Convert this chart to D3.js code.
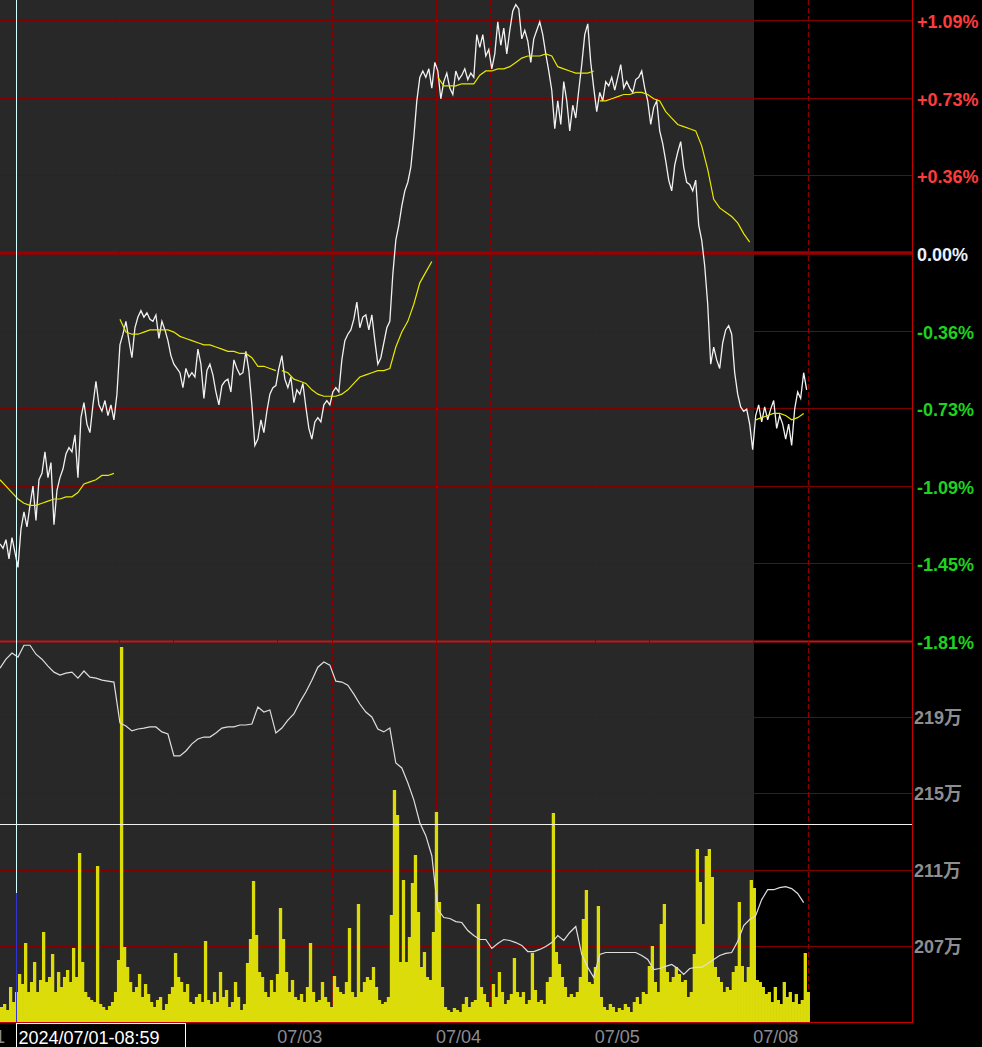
<!DOCTYPE html>
<html><head><meta charset="utf-8">
<script src="https://cdn.jsdelivr.net/npm/d3@7"></script>
<style>html,body{margin:0;padding:0;background:#000;overflow:hidden}</style>
</head><body>
<svg id="c" width="982" height="1047"></svg>
<script>
// ---------- DATA ----------
const dayLabels = ["07/01","07/02","07/03","07/04","07/05","07/08"];
const pctTicks = [1.0881, 0.7254, 0.3627, 0, -0.3627, -0.7254, -1.0881, -1.4508, -1.8135];
const oiTicks = [219, 215, 211, 207];
const cursorLabel = "2024/07/01-08:59";
const cursorT = 0.353;      // time (days) of cursor
const cursorOI = 213.41;    // value of cursor (万)
const middayOffset = 0.342; // day-session start within each trading day
const priceStart = 0.252, priceStep = 0.0189;   // days
const lineStart = 0.252, lineStep = 0.0378;     // days

// price change, % (every priceStep)
const price = [
-1.36,-1.38,-1.34,-1.43,-1.33,-1.40,-1.47,-1.29,-1.21,-1.28,
-1.18,-1.09,-1.25,-1.06,-1.03,-0.93,-1.05,-0.98,-1.27,-1.11,
-1.05,-1.01,-0.94,-0.91,-0.93,-0.85,-1.05,-0.77,-0.70,-0.80,
-0.84,-0.71,-0.60,-0.71,-0.74,-0.69,-0.76,-0.71,-0.78,-0.66,
-0.43,-0.38,-0.32,-0.41,-0.49,-0.35,-0.30,-0.27,-0.30,-0.28,
-0.31,-0.32,-0.29,-0.40,-0.32,-0.36,-0.41,-0.48,-0.52,-0.54,
-0.56,-0.63,-0.54,-0.58,-0.56,-0.58,-0.45,-0.52,-0.68,-0.55,
-0.52,-0.57,-0.65,-0.71,-0.62,-0.60,-0.59,-0.65,-0.50,-0.54,
-0.57,-0.56,-0.46,-0.55,-0.71,-0.90,-0.87,-0.78,-0.84,-0.74,
-0.66,-0.63,-0.62,-0.54,-0.48,-0.59,-0.63,-0.58,-0.70,-0.64,
-0.66,-0.61,-0.72,-0.82,-0.87,-0.79,-0.77,-0.79,-0.71,-0.69,
-0.71,-0.65,-0.63,-0.65,-0.50,-0.41,-0.38,-0.36,-0.31,-0.23,
-0.35,-0.30,-0.29,-0.36,-0.29,-0.41,-0.52,-0.49,-0.42,-0.35,
-0.32,-0.10,0.06,0.13,0.22,0.29,0.33,0.40,0.54,0.71,
0.82,0.85,0.82,0.86,0.77,0.89,0.85,0.72,0.80,0.84,
0.77,0.74,0.85,0.81,0.83,0.86,0.81,0.84,0.82,1.02,
0.96,1.02,0.92,0.95,0.86,0.93,1.08,0.97,1.05,0.93,
1.04,1.13,1.16,1.14,1.00,1.04,0.99,0.89,1.00,1.04,
1.08,1.02,0.93,0.85,0.76,0.58,0.71,0.60,0.80,0.71,
0.57,0.69,0.63,0.76,0.88,1.02,1.07,0.89,0.77,0.66,
0.75,0.71,0.80,0.78,0.82,0.76,0.82,0.88,0.77,0.80,
0.77,0.75,0.81,0.82,0.85,0.77,0.71,0.60,0.68,0.71,
0.57,0.51,0.43,0.34,0.29,0.41,0.47,0.52,0.40,0.33,
0.32,0.29,0.34,0.13,0.06,-0.06,-0.24,-0.52,-0.44,-0.50,
-0.54,-0.42,-0.36,-0.34,-0.38,-0.56,-0.66,-0.72,-0.74,-0.73,
-0.80,-0.92,-0.76,-0.71,-0.79,-0.72,-0.78,-0.73,-0.69,-0.82,
-0.76,-0.80,-0.87,-0.80,-0.90,-0.73,-0.65,-0.68,-0.56,-0.64
];

// daily average price, % (every lineStep, resets each trading day)
const vwap = [
-1.06,-1.09,-1.12,-1.15,-1.17,-1.18,-1.18,-1.17,-1.16,-1.15,
-1.15,-1.14,-1.14,-1.12,-1.08,-1.07,-1.06,-1.04,-1.04,-1.03,
-0.31,-0.37,-0.38,-0.38,-0.37,-0.36,-0.36,-0.36,-0.36,-0.37,
-0.39,-0.40,-0.41,-0.42,-0.43,-0.43,-0.44,-0.45,-0.46,-0.46,
-0.47,-0.47,-0.49,-0.53,-0.53,-0.54,-0.55,
-0.55,-0.56,-0.59,-0.60,-0.61,-0.64,-0.66,-0.67,-0.67,-0.67,
-0.66,-0.64,-0.61,-0.58,-0.57,-0.56,-0.55,-0.55,-0.54,-0.44,
-0.37,-0.32,-0.24,-0.14,-0.09,-0.04,
0.82,0.78,0.78,0.78,0.79,0.79,0.79,0.83,0.85,0.85,
0.86,0.86,0.87,0.89,0.91,0.92,0.92,0.92,0.93,0.92,
0.87,0.86,0.85,0.84,0.84,0.84,0.85,
0.71,0.71,0.72,0.73,0.74,0.74,0.75,0.75,0.74,0.72,
0.71,0.66,0.63,0.60,0.59,0.58,0.57,0.50,0.39,0.25,
0.21,0.19,0.17,0.14,0.09,0.05,
-0.78,-0.77,-0.76,-0.75,-0.75,-0.76,-0.78,-0.77,-0.75
];

// open interest, 万 (every lineStep)
const openInterest = [
221.56,222.03,222.35,222.14,222.76,222.76,222.29,222.03,221.67,221.35,
221.20,221.30,221.35,221.04,221.41,221.09,221.04,220.93,220.88,220.83,
218.69,218.53,218.27,218.37,218.42,218.48,218.48,218.22,218.11,216.96,
216.96,217.22,217.59,217.85,217.95,217.95,218.16,218.42,218.48,218.48,
218.58,218.58,218.63,219.52,219.26,219.37,218.16,218.42,218.84,219.16,
219.78,220.31,220.93,221.61,221.88,221.72,220.88,220.83,220.67,220.20,
219.68,219.26,219.00,218.37,218.22,218.42,216.59,216.33,215.55,214.66,
213.46,212.78,211.73,208.91,208.49,208.44,208.28,208.23,207.81,207.55,
207.34,207.34,206.87,207.13,207.34,207.29,207.18,207.03,206.71,206.71,
206.82,206.97,207.18,207.55,207.29,207.71,208.02,206.56,205.88,205.35,
206.56,206.66,206.66,206.66,206.66,206.66,206.66,206.50,206.29,205.77,
205.82,205.93,206.03,205.82,205.51,205.82,205.88,205.88,206.08,206.29,
206.50,206.61,206.66,207.24,208.07,208.39,208.59,209.43,209.95,209.95,
210.06,210.11,210.01,209.75,209.27
];

// volume (every priceStep)
const volume = [
15,18,12,35,20,30,48,38,79,30,
40,60,30,42,90,40,45,68,30,50,
35,45,52,40,74,45,169,60,30,25,
22,20,156,18,15,12,16,20,30,62,
375,75,55,40,30,35,48,25,38,28,
20,15,22,25,12,18,28,35,69,45,
40,30,38,20,18,25,28,20,81,22,
18,30,20,50,25,32,15,20,40,25,
12,18,59,83,141,87,50,45,30,25,
42,30,48,114,83,50,30,42,25,22,
28,20,35,79,30,20,22,40,25,20,
15,46,35,30,28,40,94,30,25,118,
30,40,45,42,55,35,22,18,20,25,
107,232,207,60,142,60,85,139,167,110,
55,70,45,42,90,210,120,35,15,12,
10,14,12,10,18,25,15,20,22,118,
35,28,20,15,38,25,50,30,18,22,
28,64,30,25,30,18,22,69,32,20,
22,18,40,45,209,70,58,45,35,25,
28,25,30,45,103,132,40,38,55,116,
25,15,12,18,15,10,14,12,18,15,
10,20,25,18,30,28,56,76,40,30,
98,118,50,40,45,55,48,40,42,25,
30,68,173,140,98,166,173,145,55,45,
40,30,35,32,50,56,120,56,40,55,
142,134,42,40,35,28,30,20,35,22,
18,40,25,30,20,28,18,22,69,30
];

// ---------- CHART ----------
const svg = d3.select("#c");
const plotR = 912, panelSplit = 641, plotB = 1022;
const x = d3.scaleLinear().domain([0, 6]).range([-40, 912]);
const yP = d3.scaleLinear().domain([pctTicks[0], pctTicks[pctTicks.length-1]]).range([20, 641]);
const yOI = d3.scaleLinear().domain([219, 207]).range([717, 946]);
const yV = d3.scaleLinear().domain([0, 381]).range([plotB, panelSplit]);
const FONT = "'Liberation Sans', Arial, 'Noto Sans CJK JP', sans-serif";
const px = v => Math.round(v) + 0.5;

svg.append("rect").attr("width", 982).attr("height", 1047).attr("fill", "#000");
svg.append("defs").append("clipPath").attr("id", "plot")
  .append("rect").attr("x", 0).attr("y", 0).attr("width", plotR).attr("height", plotB);

// past-days background
svg.append("rect").attr("x", 0).attr("y", 0)
  .attr("width", Math.round(x(dayLabels.length - 1))).attr("height", plotB).attr("fill", "#282828");

const grid = svg.append("g");
// horizontal price grid
pctTicks.forEach((v, i) => {
  const last = i === pctTicks.length - 1;
  const zero = Math.abs(v) < 1e-9;
  grid.append("line").attr("x1", 0).attr("x2", plotR)
    .attr("y1", zero ? Math.round(yP(v)) : px(yP(v))).attr("y2", zero ? Math.round(yP(v)) : px(yP(v)))
    .attr("stroke", last ? "#c41414" : (zero ? "#990000" : "#800000"))
    .attr("stroke-width", zero ? 3.5 : (last ? 2 : 1));
});
oiTicks.forEach(v => {
  grid.append("line").attr("x1", 0).attr("x2", plotR).attr("y1", px(yOI(v))).attr("y2", px(yOI(v)))
    .attr("stroke", "#800000").attr("stroke-width", 1);
});
// vertical day lines
d3.range(1, dayLabels.length).forEach(d => {
  grid.append("line").attr("x1", px(x(d))).attr("x2", px(x(d))).attr("y1", 0).attr("y2", plotB)
    .attr("stroke", "#8a0000").attr("stroke-width", 1);
});
d3.range(1, dayLabels.length).forEach(d => {
  grid.append("line").attr("x1", px(x(d + middayOffset))).attr("x2", px(x(d + middayOffset)))
    .attr("y1", 0).attr("y2", plotB)
    .attr("stroke", "#8a0000").attr("stroke-width", 1).attr("stroke-dasharray", "5,3");
});

const plot = svg.append("g").attr("clip-path", "url(#plot)");

// price line
const priceLine = d3.line().x((d, i) => x(priceStart + i * priceStep)).y(d => yP(d));
plot.append("path").datum(price).attr("d", priceLine)
  .attr("fill", "none").attr("stroke", "#f2f2f2").attr("stroke-width", 1.3);

// daily average, split by trading day
const vw = vwap.map((v, i) => ({ t: lineStart + i * lineStep, v }));
d3.groups(vw, d => Math.floor(d.t)).forEach(([day, pts]) => {
  plot.append("path").datum(pts)
    .attr("d", d3.line().x(d => x(d.t)).y(d => yP(d.v)))
    .attr("fill", "none").attr("stroke", "#e8e800").attr("stroke-width", 1.2);
});

// volume bars
const bw = x(priceStep) - x(0);
plot.append("g").selectAll("rect").data(volume).join("rect")
  .attr("x", (d, i) => x(priceStart + i * priceStep))
  .attr("width", bw + 0.3)
  .attr("y", d => yV(d))
  .attr("height", d => plotB - yV(d))
  .attr("fill", "#dcdc0a");

// open interest line
plot.append("path").datum(openInterest)
  .attr("d", d3.line().x((d, i) => x(lineStart + i * lineStep)).y(d => yOI(d)))
  .attr("fill", "none").attr("stroke", "#dedede").attr("stroke-width", 1.2);

// axes frame
svg.append("line").attr("x1", px(plotR)).attr("x2", px(plotR)).attr("y1", 0).attr("y2", plotB + 1)
  .attr("stroke", "#c40000").attr("stroke-width", 1);
svg.append("line").attr("x1", 0).attr("x2", plotR + 1).attr("y1", px(plotB)).attr("y2", px(plotB))
  .attr("stroke", "#c40000").attr("stroke-width", 1);

// right labels: percent
const fmtPct = v => (v > 1e-9 ? "+" : "") + (Math.abs(v) < 1e-9 ? "0.00" : v.toFixed(2)) + "%";
svg.append("g").selectAll("text").data(pctTicks).join("text")
  .attr("x", 917).attr("y", d => yP(d) + 8)
  .attr("font-family", FONT).attr("font-size", 18).attr("font-weight", "bold")
  .attr("fill", d => d > 1e-9 ? "#ff3c3c" : (d < -1e-9 ? "#1ed21e" : "#e8f2ff"))
  .text(fmtPct);
// right labels: open interest
svg.append("g").selectAll("text").data(oiTicks).join("text")
  .attr("x", 914).attr("y", d => yOI(d) + 7)
  .attr("font-family", FONT).attr("font-size", 18).attr("font-weight", "bold")
  .attr("fill", "#8e8e8e")
  .text(d => d + "万");

// cursor geometry
const cx = px(x(cursorT));
const boxW = 169;

// bottom date labels (those under the cursor box are hidden, as in the terminal)
const dateItems = dayLabels.map((d, i) => ({ label: d, xp: x(i) }))
  .filter(d => !(d.xp + 45 > cx && d.xp < cx + boxW));
svg.append("g").selectAll("text").data(dateItems).join("text")
  .attr("x", d => d.xp).attr("y", 1043)
  .attr("font-family", FONT).attr("font-size", 18).attr("fill", "#8c8c94")
  .text(d => d.label);

// cursor
svg.append("line").attr("x1", cx).attr("x2", cx).attr("y1", 0).attr("y2", 893)
  .attr("stroke", "#d6ffff").attr("stroke-width", 1);
svg.append("line").attr("x1", cx).attr("x2", cx).attr("y1", 893).attr("y2", plotB)
  .attr("stroke", "#3434d0").attr("stroke-width", 1);
svg.append("line").attr("x1", 0).attr("x2", plotR).attr("y1", px(yOI(cursorOI))).attr("y2", px(yOI(cursorOI)))
  .attr("stroke", "#f0f0f0").attr("stroke-width", 1);
svg.append("rect").attr("x", cx).attr("y", 1023.5).attr("width", boxW).attr("height", 30)
  .attr("fill", "#000").attr("stroke", "#ffffff").attr("stroke-width", 1);
svg.append("text").attr("x", cx + 2).attr("y", 1044)
  .attr("font-family", FONT).attr("font-size", 18).attr("fill", "#ffffff")
  .text(cursorLabel);
</script>
</body></html>
